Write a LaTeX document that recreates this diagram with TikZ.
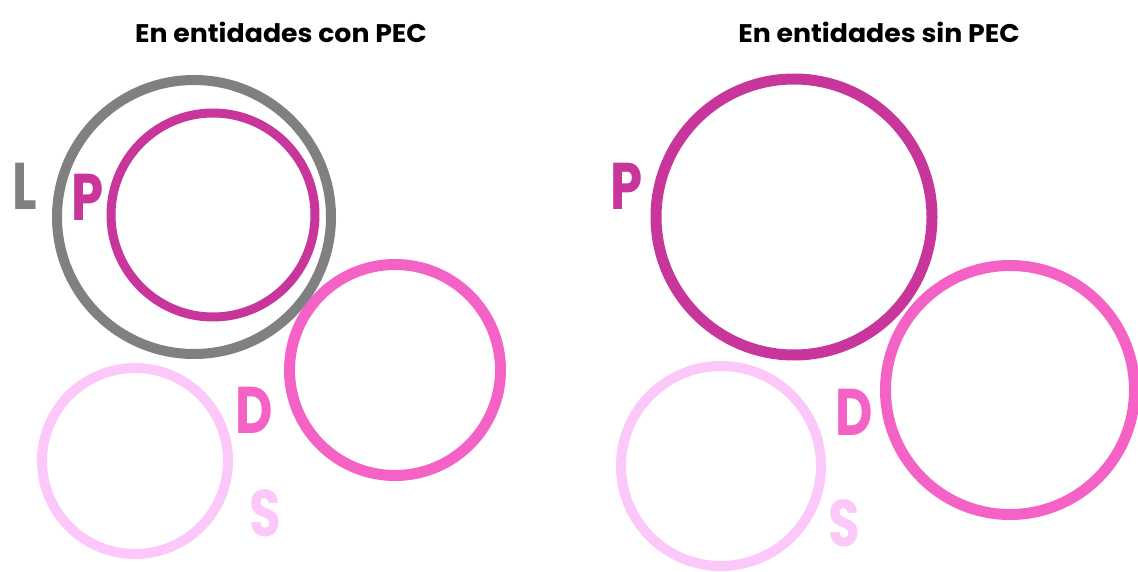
\documentclass[tikz,border=0pt]{standalone}
\usepackage{fontspec}
\setmainfont{Poppins}
\definecolor{cL}{HTML}{808080}
\definecolor{cP}{HTML}{C8369B}
\definecolor{cD}{HTML}{F562C6}
\definecolor{cS}{HTML}{FCC8FA}
\newcommand{\narrow}[1]{\scalebox{0.78}[1]{#1}}
\newcommand{\wide}[1]{\scalebox{1.05}[1]{#1}}
\begin{document}
\begin{tikzpicture}[x=1pt,y=-1pt,
  ring/.style={circle, draw, inner sep=0pt, outer sep=0pt},
  lbl/.style={font=\fontsize{66}{66}\selectfont\bfseries, inner sep=0pt},
  ttl/.style={font=\fontsize{25.5}{25.5}\selectfont\bfseries, inner sep=0pt, text=black}]
\useasboundingbox (0,0) rectangle (1138,572);
% left panel
\node[ttl] (t1) at (281,32) {\wide{En entidades con PEC}};
\node[ring, draw=cL, line width=10pt, minimum size=274pt] (cl1) at (194,217) {};
\node[ring, draw=cP, line width=9pt, minimum size=204pt] (cp1) at (213,215) {};
\node[ring, draw=cD, line width=11pt, minimum size=211pt] (cd1) at (395,370) {};
\node[ring, draw=cS, line width=10pt, minimum size=186pt] (cs1) at (135,461) {};
\node[lbl, text=cL] (l1) at (25,186) {\narrow{L}};
\node[lbl, text=cP] (p1) at (88,197) {\narrow{P}};
\node[lbl, text=cD] (d1) at (254,410) {\narrow{D}};
\node[lbl, text=cS] (s1) at (265,513) {\narrow{S}};
% right panel
\node[ttl] (t2) at (879,32) {\wide{En entidades sin PEC}};
\node[ring, draw=cP, line width=11pt, minimum size=276pt] (cp2) at (794,217) {};
\node[ring, draw=cD, line width=11pt, minimum size=249pt] (cd2) at (1010,390) {};
\node[ring, draw=cS, line width=10pt, minimum size=200pt] (cs2) at (721,466) {};
\node[lbl, text=cP] (p2) at (627,186) {\narrow{P}};
\node[lbl, text=cD] (d2) at (854,412) {\narrow{D}};
\node[lbl, text=cS] (s2) at (844,523) {\narrow{S}};
\end{tikzpicture}
\end{document}
